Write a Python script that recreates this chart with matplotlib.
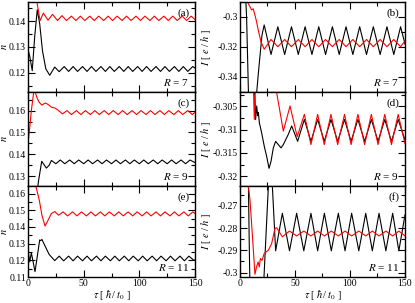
import numpy as np
import matplotlib
matplotlib.use('Agg')
import matplotlib.pyplot as plt
from matplotlib.ticker import MultipleLocator, FuncFormatter

plt.rcParams['font.family'] = 'serif'
plt.rcParams['font.serif'] = ['Liberation Serif', 'DejaVu Serif']
plt.rcParams['mathtext.fontset'] = 'stix'
plt.rcParams['axes.unicode_minus'] = False

# ---- data (extrema of the oscillating curves) ----

# (a) R = 7, occupation n
t_a_red = [6, 7.8, 10.8, 13.8, 18, 22, 26.5, 30.5, 34.5, 39, 43, 47, 51, 55.5, 59.5, 63.5, 68, 72,
           76, 80, 84.5, 88.5, 92.5, 97, 101, 105, 109.5, 113.5, 117.5, 122, 126, 130, 134,
           138.5, 142.5, 146.5, 150]
n_a_red = [0.152, 0.148, 0.1402, 0.1432, 0.1404, 0.1427, 0.1403, 0.1422, 0.1403, 0.1420, 0.1403,
           0.1420, 0.1403, 0.1420, 0.1403, 0.1420, 0.1403, 0.1420, 0.1403, 0.1420, 0.1403, 0.1420,
           0.1403, 0.1420, 0.1403, 0.1420, 0.1403, 0.1420, 0.1403, 0.1420, 0.1403, 0.1420,
           0.1403, 0.1420, 0.1403, 0.1420, 0.1407]
t_a_blk = [0, 1.5, 3.8, 6, 8.3, 10.5, 13, 16, 19.5, 24, 28, 32.5, 36.5, 40.5, 44.5, 49, 53, 57,
           61, 65.5, 69.5, 73.5, 77.5, 82, 86, 90, 94, 98.5, 102.5, 106.5, 110.5, 115, 119, 123,
           127, 131.5, 135.5, 139.5, 143.5, 148, 150]
n_a_blk = [0.1290, 0.1265, 0.1208, 0.1340, 0.1445, 0.1390, 0.1285, 0.1215, 0.1190, 0.1222,
           0.1204, 0.1224, 0.1205, 0.1224, 0.1205, 0.1224, 0.1205, 0.1224, 0.1205, 0.1224,
           0.1205, 0.1224, 0.1205, 0.1224, 0.1205, 0.1224, 0.1205, 0.1224, 0.1205, 0.1224,
           0.1205, 0.1224, 0.1205, 0.1224, 0.1205, 0.1224, 0.1205, 0.1224, 0.1205, 0.1224,
           0.1218]

# (b) R = 7, current I
t_b_red = [0, 5, 7.5, 10.6, 12, 13.6, 15, 16.6, 19, 22, 28.2, 34.4, 40.6, 46.8, 53, 59.2, 65.4,
           71.6, 77.8, 84, 90.2, 96.4, 102.6, 108.8, 115, 121.2, 127.4, 133.6, 139.8, 146, 150]
I_b_red = [-0.27, -0.285, -0.291, -0.2953, -0.2945, -0.2987, -0.303, -0.3087, -0.3164, -0.3215,
           -0.3150, -0.3198, -0.3150, -0.3198, -0.3150, -0.3198, -0.3150, -0.3198, -0.3150,
           -0.3198, -0.3150, -0.3198, -0.3150, -0.3198, -0.3150, -0.3198, -0.3150, -0.3198,
           -0.3150, -0.3198, -0.3160]
t_b_blk = [0, 4, 6, 8, 10, 14, 17, 20, 22, 28.2, 34.4, 40.6, 46.8, 53, 59.2, 65.4, 71.6, 77.8,
           84, 90.2, 96.4, 102.6, 108.8, 115, 121.2, 127.4, 133.6, 139.8, 146, 150]
I_b_blk = [-0.25, -0.27, -0.30, -0.36, -0.38, -0.36, -0.335, -0.312, -0.3053, -0.3250, -0.3065,
           -0.3250, -0.3065, -0.3250, -0.3065, -0.3250, -0.3065, -0.3250, -0.3065, -0.3250,
           -0.3065, -0.3250, -0.3065, -0.3250, -0.3065, -0.3250, -0.3065, -0.3250, -0.3065,
           -0.3180]

# (c) R = 9, occupation n
t_c_red = [0, 1.5, 3, 5.5, 8, 10, 12.5, 15.5, 18, 21, 24, 27, 31, 35, 39, 43.5, 47.5, 51.5, 56,
           60, 64, 68.5, 72.5, 76.5, 81, 85, 89, 93.5, 97.5, 101.5, 106, 110, 114, 118.5, 122.5,
           126.5, 131, 135, 139, 143.5, 147.5, 150]
n_c_red = [0.145, 0.152, 0.160, 0.170, 0.166, 0.1638, 0.1625, 0.1635, 0.1628, 0.1616, 0.1612,
           0.1602, 0.1585, 0.1600, 0.1582, 0.1600, 0.1582, 0.1600, 0.1582, 0.1600, 0.1582,
           0.1600, 0.1582, 0.1600, 0.1582, 0.1600, 0.1582, 0.1600, 0.1582, 0.1600, 0.1582,
           0.1600, 0.1582, 0.1600, 0.1582, 0.1600, 0.1582, 0.1600, 0.1582, 0.1600, 0.1582,
           0.1592]
t_c_blk = [0, 8, 9.5, 12.3, 14.5, 16.5, 19, 21, 25, 29, 33, 37.5, 41.5, 45.5, 50, 54, 58, 62.5,
           66.5, 70.5, 75, 79, 83, 87.5, 91.5, 95.5, 100, 104, 108, 112.5, 116.5, 120.5, 125,
           129, 133, 137.5, 141.5, 145.5, 150]
n_c_blk = [0.115, 0.122, 0.128, 0.1368, 0.1352, 0.1337, 0.1350, 0.1372, 0.1357, 0.1374, 0.1357,
           0.1374, 0.1357, 0.1374, 0.1357, 0.1374, 0.1357, 0.1374, 0.1357, 0.1374, 0.1357,
           0.1374, 0.1357, 0.1374, 0.1357, 0.1374, 0.1357, 0.1374, 0.1357, 0.1374, 0.1357,
           0.1374, 0.1357, 0.1374, 0.1357, 0.1374, 0.1357, 0.1374, 0.1362]

# (d) R = 9, current I
t_d_red = [8, 10, 12, 13, 14, 16, 20, 30, 33.3, 39.4, 45.5, 52, 58.5, 64.5, 70.6, 76.6, 82.7,
           88.8, 95, 101, 107.2, 113.3, 119.4, 125.5, 131.6, 137.7, 143.8, 150]
I_d_red = [-0.29, -0.295, -0.299, -0.3078, -0.300, -0.296, -0.294, -0.298, -0.302, -0.3103,
           -0.3049, -0.3115, -0.3067, -0.3132, -0.3067, -0.3132, -0.3067, -0.3132, -0.3067,
           -0.3132, -0.3067, -0.3132, -0.3067, -0.3132, -0.3067, -0.3132, -0.3067, -0.3130]
t_d_blk = [10, 13.6, 14.2, 15.2, 16.1, 16.7, 17.6, 19.7, 22.1, 24.2, 26.4, 28.2, 30.3, 32.4,
           34.8, 37.3, 39.4, 43.9, 47, 52.4, 58.5, 64.5, 70.6, 76.6, 82.7, 88.8, 95, 101, 107.2,
           113.3, 119.4, 125.5, 131.6, 137.7, 143.8, 150]
I_d_blk = [-0.29, -0.3034, -0.3078, -0.3049, -0.3070, -0.3063, -0.3085, -0.3107, -0.3136,
           -0.3157, -0.3183, -0.3168, -0.3139, -0.3125, -0.3132, -0.3139, -0.3132, -0.3110,
           -0.3092, -0.3125, -0.3078, -0.3125, -0.3078, -0.3125, -0.3078, -0.3125, -0.3078,
           -0.3125, -0.3078, -0.3125, -0.3078, -0.3125, -0.3078, -0.3125, -0.3078, -0.3122]

# (e) R = 11, occupation n
t_e_red = [0, 5, 10.2, 12.5, 15.3, 18, 21, 24, 27.5, 31.5, 35.5, 40, 44, 48, 52.5, 56.5, 60.5,
           65, 69, 73, 77.5, 81.5, 85.5, 90, 94, 98, 102.5, 106.5, 110.5, 115, 119, 123, 127.5,
           131.5, 135.5, 140, 144, 148, 150]
n_e_red = [0.175, 0.170, 0.1558, 0.1470, 0.1405, 0.1440, 0.1480, 0.1492, 0.1470, 0.1490,
           0.1466, 0.1490, 0.1466, 0.1490, 0.1466, 0.1490, 0.1466, 0.1490, 0.1466, 0.1490,
           0.1466, 0.1490, 0.1466, 0.1490, 0.1466, 0.1490, 0.1466, 0.1490, 0.1466, 0.1490,
           0.1466, 0.1490, 0.1466, 0.1490, 0.1466, 0.1490, 0.1466, 0.1490, 0.1480]
t_e_blk = [0, 1.5, 3, 6.3, 10.5, 11.5, 12.5, 15, 19, 24, 28, 32, 36.5, 40.5, 44.5, 49, 53, 57,
           61.5, 65.5, 69.5, 74, 78, 82, 86.5, 90.5, 94.5, 99, 103, 107, 111.5, 115.5, 119.5,
           124, 128, 132, 136.5, 140.5, 144.5, 149, 150]
n_e_blk = [0.1262, 0.1190, 0.1245, 0.1132, 0.1322, 0.1318, 0.1325, 0.1290, 0.1235, 0.1198,
           0.1225, 0.1197, 0.1225, 0.1197, 0.1225, 0.1197, 0.1225, 0.1197, 0.1225, 0.1197,
           0.1225, 0.1197, 0.1225, 0.1197, 0.1225, 0.1197, 0.1225, 0.1197, 0.1225, 0.1197,
           0.1225, 0.1197, 0.1225, 0.1197, 0.1225, 0.1197, 0.1225, 0.1197, 0.1225, 0.1200,
           0.1203]

# (f) R = 11, current I
t_f_red = [5, 9.1, 11.5, 13.6, 15, 16.5, 17.5, 18.5, 20, 22, 25.8, 28.8, 31.8, 33.3, 38.5, 45,
           51.5, 58, 64.5, 70.6, 76.7, 83, 89.4, 95.5, 101.5, 108, 114.3, 120.3, 126.4, 132.6,
           138.8, 144.4, 150]
I_f_red = [-0.25, -0.2673, -0.285, -0.3008, -0.2975, -0.2952, -0.2975, -0.2937, -0.2945,
           -0.2914, -0.2899, -0.2869, -0.2801, -0.2798, -0.2839, -0.2813, -0.2835, -0.2813,
           -0.2835, -0.2813, -0.2835, -0.2813, -0.2835, -0.2813, -0.2835, -0.2813, -0.2835,
           -0.2813, -0.2835, -0.2813, -0.2835, -0.2813, -0.2835]
t_f_blk = [0, 7.5, 8.5, 9.5, 15, 20, 21.8, 25.8, 28.5, 32.4, 38.5, 45, 51.5, 58, 64.5, 70.6,
           76.7, 83, 89.4, 95.5, 101.5, 108, 114.3, 120.3, 126.4, 132.6, 138.8, 144.4, 150]
I_f_blk = [-0.22, -0.255, -0.29, -0.32, -0.34, -0.32, -0.302, -0.261, -0.252, -0.2902,
           -0.2733, -0.2902, -0.2733, -0.2902, -0.2733, -0.2902, -0.2733, -0.2902, -0.2733,
           -0.2902, -0.2733, -0.2902, -0.2733, -0.2902, -0.2733, -0.2902, -0.2733, -0.2902,
           -0.2740]

panel_tags = ['(a)', '(b)', '(c)', '(d)', '(e)', '(f)']
radii = [7, 7, 9, 9, 11, 11]
ylims = [(0.1125, 0.1475), (-0.35, -0.29), (0.1255, 0.1685),
         (-0.3221, -0.3019), (0.11, 0.1645), (-0.302, -0.261)]
ysteps = [0.01, 0.02, 0.01, 0.005, 0.01, 0.01]

red_t = [t_a_red, t_b_red, t_c_red, t_d_red, t_e_red, t_f_red]
red_y = [n_a_red, I_b_red, n_c_red, I_d_red, n_e_red, I_f_red]
blk_t = [t_a_blk, t_b_blk, t_c_blk, t_d_blk, t_e_blk, t_f_blk]
blk_y = [n_a_blk, I_b_blk, n_c_blk, I_d_blk, n_e_blk, I_f_blk]

fig = plt.figure(figsize=(4.15, 3.03), dpi=100)

lefts = [0.0675, 0.5783]
widths = [0.4024, 0.3976]
bottoms = [0.6964, 0.3861, 0.0858]
heights = [0.2970, 0.3102, 0.3003]

fmt = FuncFormatter(lambda v, p: '%g' % round(v, 6))

for i in range(6):
    row, col = i // 2, i % 2
    ax = fig.add_axes([lefts[col], bottoms[row], widths[col], heights[row]])

    ax.plot(blk_t[i], blk_y[i], color='black', lw=0.8)
    ax.plot(red_t[i], red_y[i], color='red', lw=0.8)

    ax.set_xlim(0, 150)
    ax.set_ylim(*ylims[i])

    ax.xaxis.set_major_locator(MultipleLocator(50))
    ax.xaxis.set_minor_locator(MultipleLocator(25))
    ax.yaxis.set_major_locator(MultipleLocator(ysteps[i]))
    ax.yaxis.set_minor_locator(MultipleLocator(ysteps[i] / 2))
    ax.yaxis.set_major_formatter(fmt)

    ax.tick_params(which='both', direction='in', top=True, right=True, labelsize=7, pad=1.5)
    ax.tick_params(which='major', length=5, width=0.8)
    ax.tick_params(which='minor', length=3, width=0.8)
    for sp in ax.spines.values():
        sp.set_linewidth(1.0)

    if row < 2:
        ax.set_xticklabels([])
    else:
        ax.set_xlabel(r'$\tau$ [ $\hbar$/ $t_0$ ]', fontsize=7.5, labelpad=0)

    if col == 0:
        ax.set_ylabel(r'$n$', fontsize=7.5)
        ax.yaxis.set_label_coords(-0.112, 0.5)
    else:
        ax.set_ylabel(r'$I$ [ $e$ / $h$ ]', fontsize=7.5)
        ax.yaxis.set_label_coords(-0.165, 0.5)

    ax.text(0.965, 0.88, panel_tags[i], transform=ax.transAxes, ha='right', va='center',
            fontsize=8)
    ax.text(0.965, 0.1, r'$R$ = %d' % radii[i], transform=ax.transAxes, ha='right',
            va='center', fontsize=8)

fig.savefig('out.png', dpi=100)
